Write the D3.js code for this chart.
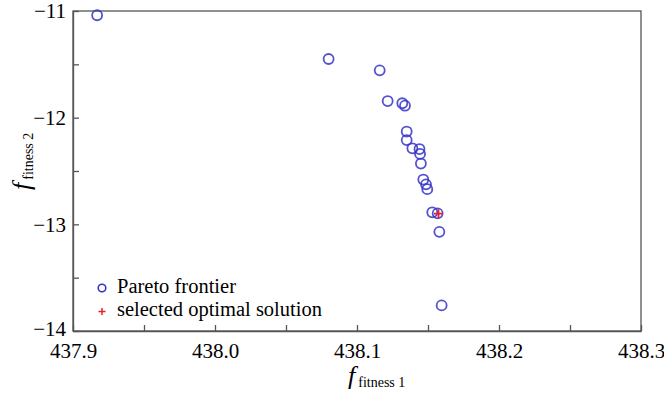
<!DOCTYPE html>
<html>
<head>
<meta charset="utf-8">
<script src="https://cdn.jsdelivr.net/npm/d3@7"></script>
<style>
  body { margin: 0; font-family: "Liberation Serif", serif; }
  #chart text { font-family: "Liberation Serif", serif; }
</style>
</head>
<body>
<svg id="chart" width="664" height="393" font-family="Liberation Serif" style="position:absolute;left:0;top:0"></svg>
<script>
// Pareto front data
const fitness1 = [437.917, 438.080, 438.116, 438.1216, 438.1319, 438.1338, 438.135, 438.135,
    438.139, 438.144, 438.1444, 438.145, 438.1467, 438.1486, 438.1495, 438.153, 438.1568,
    438.158, 438.1596];
const fitness2 = [-11.04, -11.45, -11.556, -11.844, -11.865, -11.888, -12.13, -12.21,
    -12.287, -12.294, -12.34, -12.43, -12.58, -12.625, -12.67, -12.887, -12.897,
    -13.07, -13.76];
const selected = [438.1574, -12.90];
const xTicks = [437.9, 437.95, 438.0, 438.05, 438.1, 438.15, 438.2, 438.25, 438.3];
const yTicks = [-11, -11.5, -12, -12.5, -13, -13.5, -14];
const legendLabels = ["Pareto frontier", "selected optimal solution"];

let width = 664, height = 393,
    margin = { top: 11, right: 23, bottom: 62, left: 73 }

let svg = d3.select("#chart")

let x = d3.scaleLinear().domain([437.9, 438.3]).range([margin.left, width - margin.right])
let y = d3.scaleLinear().domain([-14, -11]).range([height - margin.bottom, margin.top])

// frame
svg.append("rect")
    .attr("x", margin.left)
    .attr("y", margin.top)
    .attr("width", width - margin.left - margin.right)
    .attr("height", height - margin.top - margin.bottom)
    .attr("fill", "none")
    .attr("stroke", "#555")
    .attr("stroke-width", 1.3)

let xAxis = svg.append("g")
    .attr("transform", "translate(0," + (height - margin.bottom) + ")")
    .call(d3.axisBottom(x)
        .tickValues(xTicks)
        .tickSizeInner(-6)
        .tickSizeOuter(0)
        .tickPadding(12)
        .tickFormat(function (d) {
            return Math.abs(Math.round(d * 10) - d * 10) < 1e-6 ? d3.format(".1f")(d) : "";
        }))

let yAxis = svg.append("g")
    .attr("transform", "translate(" + margin.left + ",0)")
    .call(d3.axisLeft(y)
        .tickValues(yTicks)
        .tickSizeInner(-6)
        .tickSizeOuter(0)
        .tickPadding(7)
        .tickFormat(function (d) {
            return Number.isInteger(d) ? d3.format("d")(d) : "";
        }))

svg.selectAll("g").attr("font-family", "Liberation Serif").attr("font-size", 21)
svg.selectAll(".domain").attr("stroke", "#555").attr("stroke-width", 1.3)
svg.selectAll(".tick line").attr("stroke", "#555").attr("stroke-width", 1.3)
// lift the bottom y label a little so it clears the x labels
yAxis.selectAll(".tick text").filter(function (d) { return d === -14; }).attr("dy", "0.2em")

// points
svg.append("g").selectAll("circle")
    .data(d3.range(fitness1.length))
    .enter()
    .append("circle")
    .attr("cx", function (i) { return x(fitness1[i]); })
    .attr("cy", function (i) { return y(fitness2[i]); })
    .attr("r", 5)
    .attr("fill", "none")
    .attr("stroke", "#3535c8")
    .attr("stroke-opacity", 0.85)
    .attr("stroke-width", 1.8)

// selected solution
let sx = x(selected[0]), sy = y(selected[1])
svg.append("path")
    .attr("d", "M" + (sx - 4.5) + "," + sy + "H" + (sx + 4.5) + "M" + sx + "," + (sy - 4.5) + "V" + (sy + 4.5))
    .attr("stroke", "#e8202a")
    .attr("stroke-width", 1.8)

// legend
let legend = svg.append("g").attr("transform", "translate(102,0)")
legend.append("circle")
    .attr("cx", 0).attr("cy", 288).attr("r", 3.8)
    .attr("fill", "none").attr("stroke", "#3535c8").attr("stroke-width", 1.6)
legend.append("path")
    .attr("d", "M-3.5,311.5H3.5M0,308V315")
    .attr("stroke", "#e8202a").attr("stroke-width", 1.5)
legend.selectAll("text.lg")
    .data(legendLabels)
    .enter()
    .append("text")
    .attr("class", "lg")
    .attr("x", 15)
    .attr("y", function (d, i) { return 293 + i * 23; })
    .attr("font-size", 20.5)
    .text(function (d) { return d; })

// axis titles
let xt = svg.append("text")
    .attr("x", 348).attr("y", 384)
    .attr("font-size", 26)
xt.append("tspan").attr("font-style", "italic").text("f")
xt.append("tspan").attr("dx", 3).attr("dy", 3).attr("font-size", 14).text("fitness 1")

let yt = svg.append("text")
    .attr("transform", "translate(30,190) rotate(-90)")
    .attr("font-size", 26)
yt.append("tspan").attr("font-style", "italic").text("f")
yt.append("tspan").attr("dx", 3).attr("dy", 3).attr("font-size", 14).text("fitness 2")
</script>
</body>
</html>
